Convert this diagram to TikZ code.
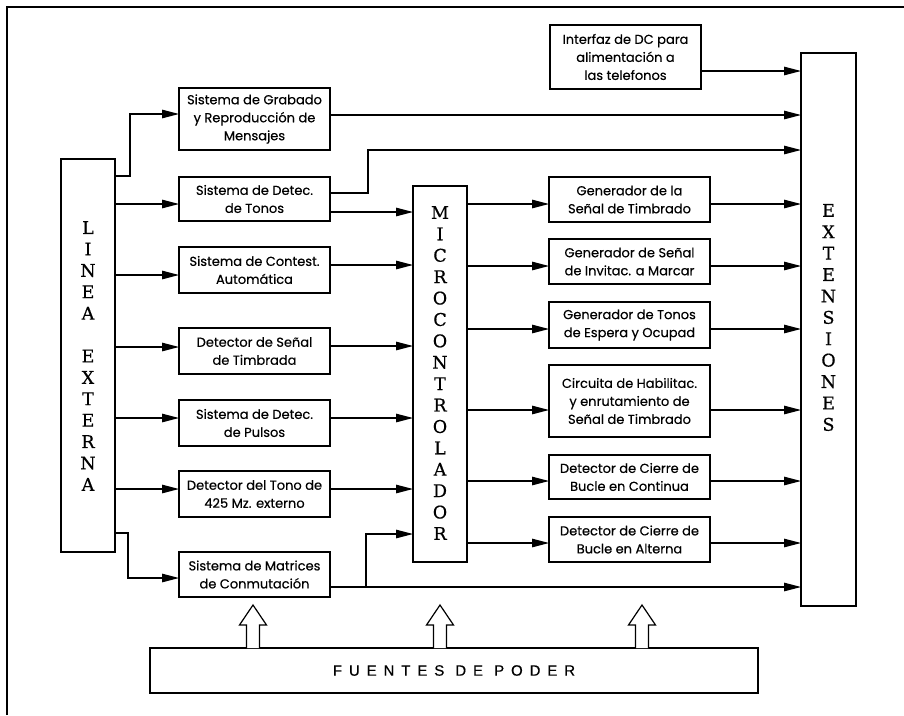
\documentclass[tikz,border=0pt]{standalone}
\usepackage{fontspec}
\setmainfont{Poppins}[FakeBold=0.4]
\newfontfamily\slabfont[FakeBold=0.6]{DejaVu Serif}
\newfontfamily\capsfont[LetterSpace=46, FakeBold=0.4]{Liberation Sans}
\usetikzlibrary{arrows.meta}

\begin{document}
\begin{tikzpicture}[x=1pt,y=-1pt,
  every node/.style={inner sep=0pt, outer sep=0pt},
  blk/.style={draw, line width=1.2pt, align=center, font=\fontsize{13}{18}\selectfont},
  lbox/.style={blk, minimum width=151pt},
  rbox/.style={blk, minimum width=161pt},
  vbox/.style={draw, line width=1.2pt, minimum width=54pt},
  vtext/.style={align=center, font=\slabfont\fontsize{17.5}{21.4}\selectfont},
  arr/.style={line width=1.2pt, -{Triangle[length=17pt,width=8.5pt]}},
  hollow/.style={draw, line width=1.2pt, fill=white, line join=miter}
]
\useasboundingbox (0,0) rectangle (904,715);

% page frame
\draw[line width=1.2pt] (7,715) -- (7,7) -- (904,7);

% tall blocks
\node[vbox, minimum height=393pt] (linea) at (88,355.5) {};
\node[vtext] at (88,356) {L\\I\\N\\E\\A\\[21.4pt]E\\X\\T\\E\\R\\N\\A};
\node[vbox, minimum height=376pt] (micro) at (440,374) {};
\node[vtext] at (440,373) {M\\I\\C\\R\\O\\C\\O\\N\\T\\R\\O\\L\\A\\D\\O\\R};
\node[vbox, minimum width=55pt, minimum height=553pt] (ext) at (828.5,329.5) {};
\node[vtext] at (828.5,317.5) {E\\X\\T\\E\\N\\S\\I\\O\\N\\E\\S};

% input side blocks
\node[lbox, minimum height=62pt] (graba) at (254.5,119) {Sistema de Grabado\\y Reproducción de\\Mensajes};
\node[lbox, minimum height=44pt] (tonos) at (254.5,199) {Sistema de Detec.\\de Tonos};
\node[lbox, minimum height=46pt] (contest) at (254.5,270) {Sistema de Contest.\\Automática};
\node[lbox, minimum height=46pt] (timbr) at (254.5,351) {Detector de Señal\\de Timbrada};
\node[lbox, minimum height=46pt] (pulsos) at (254.5,423) {Sistema de Detec.\\de Pulsos};
\node[lbox, minimum height=46pt] (tono425) at (254.5,494) {Detector del Tono de\\425 Mz. externo};
\node[lbox, minimum height=45pt] (matrices) at (254.5,574.5) {Sistema de Matrices\\de Conmutación};

% output side blocks
\node[lbox, minimum height=64pt] (dcif) at (625.5,57) {Interfaz de DC para\\alimentación a\\las telefonos};
\node[rbox, minimum height=45pt] (gtimb) at (629.5,199.5) {Generador de la\\Señal de Timbrado};
\node[rbox, minimum height=45pt] (ginv) at (629.5,261.5) {Generador de Señal\\de Invitac. a Marcar};
\node[rbox, minimum height=46pt] (gesp) at (629.5,325) {Generador de Tonos\\de Espera y Ocupad};
\node[rbox, minimum height=72pt] (circ) at (629.5,401) {Circuita de Habilitac.\\y enrutamiento de\\Señal de Timbrado};
\node[rbox, minimum height=44pt] (bcont) at (629.5,477) {Detector de Cierre de\\Bucle en Continua};
\node[rbox, minimum height=45pt] (balt) at (629.5,539.5) {Detector de Cierre de\\Bucle en Alterna};

% power supply
\node[draw, line width=1.2pt, minimum width=608pt, minimum height=45pt,
      font=\capsfont\fontsize{15}{17}\selectfont] (fuentes) at (454,670.5) {FUENTES DE PODER};
\foreach \x in {253,440,642}
  \draw[hollow] ({\x-6.5},{648}) -- ({\x-6.5},625) -- ({\x-13.5},625) -- (\x,605)
    -- ({\x+13.5},625) -- ({\x+6.5},625) -- ({\x+6.5},648);

% line side connections
\draw[arr] (linea.east |- 0,176) -- (130,176) -- (130,114) -- (graba.west |- 0,114);
\draw[arr] (linea.east |- 0,204) -- (tonos.west |- 0,204);
\draw[arr] (linea.east |- 0,275) -- (contest.west |- 0,275);
\draw[arr] (linea.east |- 0,347) -- (timbr.west |- 0,347);
\draw[arr] (linea.east |- 0,418) -- (pulsos.west |- 0,418);
\draw[arr] (linea.east |- 0,489) -- (tono425.west |- 0,489);
\draw[arr] (linea.east |- 0,533) -- (128,533) -- (128,578) -- (matrices.west |- 0,578);

% into the microcontroller
\draw[arr] (tonos.east |- 0,212) -- (micro.west |- 0,212);
\draw[arr] (contest.east |- 0,265) -- (micro.west |- 0,265);
\draw[arr] (timbr.east |- 0,346) -- (micro.west |- 0,346);
\draw[arr] (pulsos.east |- 0,418) -- (micro.west |- 0,418);
\draw[arr] (tono425.east |- 0,489) -- (micro.west |- 0,489);
\draw[arr] (366,587) -- (366,534) -- (micro.west |- 0,534);

% microcontroller outputs
\foreach \n/\y in {gtimb/204, ginv/266, gesp/329, circ/410, bcont/481, balt/543} {
  \draw[arr] (micro.east |- 0,\y) -- (\n.west |- 0,\y);
  \draw[arr] (\n.east |- 0,\y) -- (ext.west |- 0,\y);
}

% direct lines to the extensions
\draw[arr] (dcif.east |- 0,71) -- (ext.west |- 0,71);
\draw[arr] (graba.east |- 0,115) -- (ext.west |- 0,115);
\draw[arr] (tonos.east |- 0,193) -- (368,193) -- (368,150) -- (ext.west |- 0,150);
\draw[arr] (matrices.east |- 0,587) -- (ext.west |- 0,587);
\end{tikzpicture}
\end{document}
